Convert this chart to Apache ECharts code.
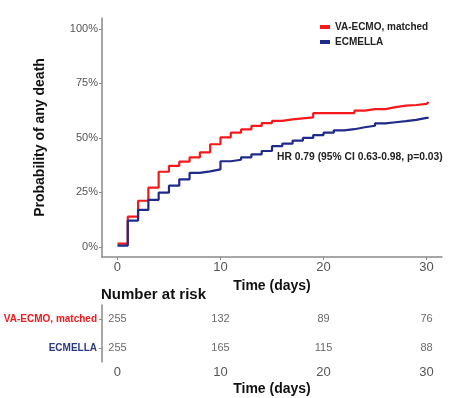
<!DOCTYPE html>
<html>
<head>
<meta charset="utf-8">
<script src="https://cdn.jsdelivr.net/npm/echarts@6/dist/echarts.min.js"></script>
<style>
  html, body { margin: 0; padding: 0; background: #fff; }
  #chart { width: 464px; height: 398px; }
</style>
</head>
<body>
<div id="chart"></div>
<script>
// days of each step, cumulative probability of death (%)
const days = [0, 1, 2, 3, 4, 5, 6, 7, 8, 9, 10, 11, 12, 13, 14, 15, 16, 17, 18, 19, 20, 21, 22, 23, 24, 25, 26, 27, 28, 29, 30, 30.2]
const ecmo = [1.5, 13.9, 21.2, 27.2, 34.5, 37.2, 39.1, 41.1, 43.4, 47.1, 50.3, 52.4, 53.9, 55.5, 56.8, 57.8, 58.5, 59.0, 59.4, 61.4, 61.4, 61.4, 61.4, 62.5, 63.2, 63.2, 64.1, 64.8, 65.1, 65.6, 66.5, 66.5]
const ecmella = [0.6, 12.1, 17.0, 21.6, 24.9, 28.1, 31.0, 34.0, 34.7, 35.6, 39.3, 40.0, 41.1, 42.5, 44.0, 46.2, 47.4, 48.8, 50.0, 51.3, 52.4, 53.5, 54.0, 54.9, 55.6, 56.7, 57.2, 57.7, 58.3, 59.2, 59.2, 59.2]

const xTicks = [0, 10, 20, 30]
const yTicks = [0, 25, 50, 75, 100]

const groups = ['ECMELLA', 'VA-ECMO, matched']
const riskDays = [0, 10, 20, 30]
const riskEcmo = [255, 132, 89, 76]
const riskEcmella = [255, 165, 115, 88]

const RED = '#f5191c'
const BLUE = '#1f2a8a'
const FONT = 'Liberation Sans, Arial, sans-serif'

const chart = echarts.init(document.getElementById('chart'))

const axisGrey = { onZero: false, lineStyle: { color: '#8a8a8a', width: 1.5 } }

const option = {
  animation: false,
  backgroundColor: '#fff',
  textStyle: { fontFamily: FONT },
  legend: {
    orient: 'vertical',
    left: 315,
    top: 17,
    itemGap: 5,
    itemWidth: 10,
    itemHeight: 4,
    icon: 'rect',
    textStyle: { fontSize: 10, fontWeight: 'bold', color: '#222', fontFamily: FONT },
    data: ['VA-ECMO, matched', 'ECMELLA']
  },
  graphic: [
    {
      type: 'text', left: 277, top: 152,
      style: { text: 'HR 0.79 (95% CI 0.63-0.98, p=0.03)', font: 'bold 10.3px ' + FONT, fill: '#222' }
    },
    {
      type: 'text', left: 101, top: 287,
      style: { text: 'Number at risk', font: 'bold 15px ' + FONT, fill: '#111' }
    }
  ],
  grid: [
    { left: 102, right: 22, top: 18, height: 239 },
    { left: 102, right: 22, top: 305, height: 57 }
  ],
  xAxis: [
    {
      gridIndex: 0, type: 'value', min: -1.5, max: 31.5,
      name: 'Time (days)', nameLocation: 'middle', nameGap: 20,
      nameTextStyle: { fontSize: 14, fontWeight: 'bold', color: '#111', fontFamily: FONT },
      axisLine: axisGrey,
      axisTick: { customValues: xTicks, length: 3, lineStyle: { color: '#8a8a8a' } },
      axisLabel: { customValues: xTicks, fontSize: 13, color: '#555', margin: 4 },
      splitLine: { show: false }
    },
    {
      gridIndex: 1, type: 'value', min: -1.5, max: 31.5,
      name: 'Time (days)', nameLocation: 'middle', nameGap: 20,
      nameTextStyle: { fontSize: 14, fontWeight: 'bold', color: '#111', fontFamily: FONT },
      axisLine: axisGrey,
      axisTick: { customValues: xTicks, length: 3, lineStyle: { color: '#8a8a8a' } },
      axisLabel: { customValues: xTicks, fontSize: 13, color: '#555', margin: 4 },
      splitLine: { show: false }
    }
  ],
  yAxis: [
    {
      gridIndex: 0, type: 'value', min: -4.6, max: 105,
      name: 'Probability of any death', nameLocation: 'middle', nameGap: 55,
      nameTextStyle: { fontSize: 14, fontWeight: 'bold', color: '#111', fontFamily: FONT },
      axisLine: { show: true, ...axisGrey },
      axisTick: { show: true, customValues: yTicks, length: 3, lineStyle: { color: '#8a8a8a' } },
      axisLabel: { customValues: yTicks, fontSize: 11, color: '#555', margin: 4, formatter: v => v + '%' },
      splitLine: { show: false }
    },
    {
      gridIndex: 1, type: 'category', data: groups,
      axisLine: { show: true, ...axisGrey },
      axisTick: { show: true, alignWithLabel: true, length: 3, lineStyle: { color: '#8a8a8a' } },
      axisLabel: {
        fontSize: 10, fontWeight: 'bold', margin: 5,
        formatter: v => v === 'ECMELLA' ? '{b|' + v + '}' : '{r|' + v + '}',
        rich: {
          r: { color: RED, fontSize: 10, fontWeight: 'bold', fontFamily: FONT },
          b: { color: '#2b3a80', fontSize: 10, fontWeight: 'bold', fontFamily: FONT }
        }
      }
    }
  ],
  series: [
    {
      name: 'VA-ECMO, matched', type: 'line', step: 'end', showSymbol: false,
      xAxisIndex: 0, yAxisIndex: 0,
      itemStyle: { color: RED },
      lineStyle: { color: RED, width: 2.2 },
      data: days.map((d, i) => [d, ecmo[i]])
    },
    {
      name: 'ECMELLA', type: 'line', step: 'end', showSymbol: false,
      xAxisIndex: 0, yAxisIndex: 0,
      itemStyle: { color: BLUE },
      lineStyle: { color: BLUE, width: 2.2 },
      data: days.map((d, i) => [d, ecmella[i]])
    },
    {
      name: 'risk-ecmo', type: 'scatter', symbolSize: 0,
      xAxisIndex: 1, yAxisIndex: 1,
      label: { show: true, position: 'inside', fontSize: 11, color: '#444', formatter: p => p.data[2] },
      data: riskDays.map((d, i) => [d, groups[1], riskEcmo[i]])
    },
    {
      name: 'risk-ecmella', type: 'scatter', symbolSize: 0,
      xAxisIndex: 1, yAxisIndex: 1,
      label: { show: true, position: 'inside', fontSize: 11, color: '#444', formatter: p => p.data[2] },
      data: riskDays.map((d, i) => [d, groups[0], riskEcmella[i]])
    }
  ]
}

chart.setOption(option)
</script>
</body>
</html>
